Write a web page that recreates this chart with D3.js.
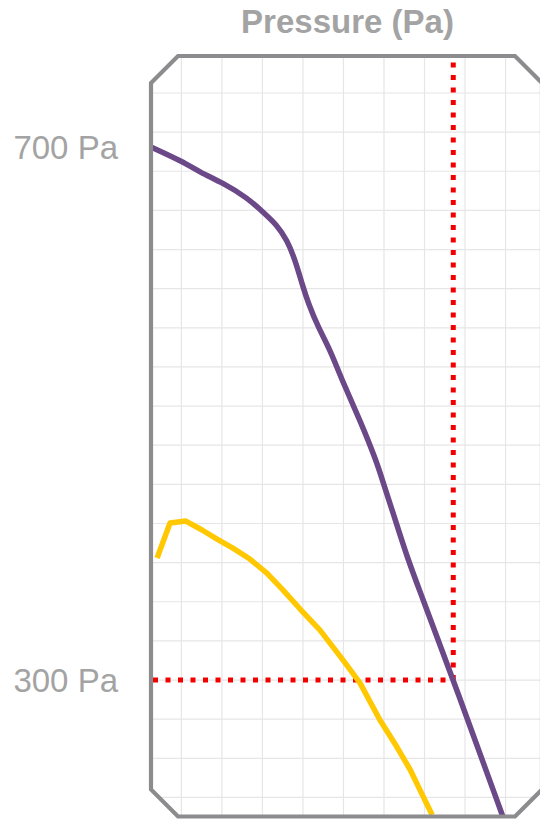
<!DOCTYPE html>
<html>
<head>
<meta charset="utf-8">
<script src="https://cdn.jsdelivr.net/npm/d3@7"></script>
<style>
html,body{margin:0;padding:0;background:#fff;}
svg{display:block;font-family:"Liberation Sans",Arial,sans-serif;}
</style>
</head>
<body>
<svg id="chart" width="540" height="819"></svg>
<script>
// ---- data ----
const purpleFlow = [0, 79, 121, 178, 237, 277, 311, 336, 356, 375, 388, 412, 442, 474, 516, 558, 573, 598, 632, 672, 706, 746, 869];
const purplePressure = [700, 689, 681, 673, 662, 651, 641.5, 630, 615, 595, 583, 565, 548, 523, 495, 463, 448, 425, 392, 360, 332, 300, 197];
const yellowFlow = [15, 47, 86, 126, 163, 202, 244, 286, 326, 368, 417, 474, 516, 565, 607, 640, 664, 694];
const yellowPressure = [391.6, 417.8, 419.3, 412.6, 405.8, 399, 390.8, 380.3, 367.5, 353.3, 337.5, 315, 297.7, 270, 249.7, 232.5, 217.4, 198.7];
const operatingFlow = [746];
const operatingPressure = [300];
const yTickValues = [700, 300];
const yTickLabels = ["700 Pa", "300 Pa"];
const titleText = "Pressure (Pa)";

(function () {
// ---- layout ----
const pL = 151, pR = 542, pT = 56, pB = 816.5, cham = 27;
const svg = d3.select("#chart");

const x = d3.scaleLinear().domain([0, 965]).range([pL, pR]);
const y = d3.scaleLinear().domain([197.6, 768.3]).range([pB, pT]);

// grid (decorative, independent spacing)
const gridXVals = d3.range(75, 965, 100);
const gridYVals = d3.range(-3, 16).map(k => 300 + k * 29.37);

const framePath = `M${pL},${pT+cham} L${pL+cham},${pT} L${pR-cham},${pT} L${pR},${pT+cham} L${pR},${pB-cham} L${pR-cham},${pB} L${pL+cham},${pB} L${pL},${pB-cham} Z`;

svg.append("defs").append("clipPath").attr("id","clip")
  .append("path").attr("d", framePath);

const plot = svg.append("g").attr("clip-path","url(#clip)");

plot.selectAll("line.gx").data(gridXVals).join("line")
  .attr("class","gx")
  .attr("x1", d => x(d)).attr("x2", d => x(d))
  .attr("y1", pT).attr("y2", pB)
  .attr("stroke", "#e6e6e6").attr("stroke-width", 1.2);
plot.selectAll("line.gy").data(gridYVals).join("line")
  .attr("class","gy")
  .attr("y1", d => y(d)).attr("y2", d => y(d))
  .attr("x1", pL).attr("x2", pR)
  .attr("stroke", "#e6e6e6").attr("stroke-width", 1.2);

// red operating point guides
const op = { f: operatingFlow[0], p: operatingPressure[0] };
plot.append("line")
  .attr("x1", x(op.f)).attr("x2", x(op.f))
  .attr("y1", y(op.p)).attr("y2", y(y.domain()[1]))
  .attr("stroke", "#f20000").attr("stroke-width", 5)
  .attr("stroke-dasharray", "5,7.5");
plot.append("line")
  .attr("x1", x(0) + 2).attr("x2", x(op.f))
  .attr("y1", y(op.p)).attr("y2", y(op.p))
  .attr("stroke", "#f20000").attr("stroke-width", 5)
  .attr("stroke-dasharray", "5,7.5");

// curves
const purple = purpleFlow.map((f, i) => [f, purplePressure[i]]);
const yellow = yellowFlow.map((f, i) => [f, yellowPressure[i]]);

plot.append("path").datum(yellow)
  .attr("d", d3.line().x(d => x(d[0])).y(d => y(d[1])).curve(d3.curveLinear))
  .attr("fill","none").attr("stroke","#ffc800").attr("stroke-width",5.5)
  .attr("stroke-linejoin","round");

plot.append("path").datum(purple)
  .attr("d", d3.line().x(d => x(d[0])).y(d => y(d[1])).curve(d3.curveBasis))
  .attr("fill","none").attr("stroke","#6b4888").attr("stroke-width",5.5)
  .attr("stroke-linejoin","round");

// frame
svg.append("path").attr("d", framePath)
  .attr("fill","none").attr("stroke","#8c8c8f").attr("stroke-width",4.2);

// y labels
svg.selectAll("text.ylab").data(yTickValues).join("text")
  .attr("class","ylab")
  .attr("x", 118).attr("y", d => y(d))
  .attr("text-anchor","end").attr("dominant-baseline","central")
  .attr("font-size", 33).attr("fill", "#a3a3a3")
  .text((d, i) => yTickLabels[i]);

// title
svg.append("text")
  .attr("x", (pL + pR) / 2 + 1).attr("y", 33)
  .attr("text-anchor","middle")
  .attr("font-size", 33).attr("font-weight","bold").attr("fill","#a3a3a3")
  .text(titleText);
})();
</script>
</body>
</html>
